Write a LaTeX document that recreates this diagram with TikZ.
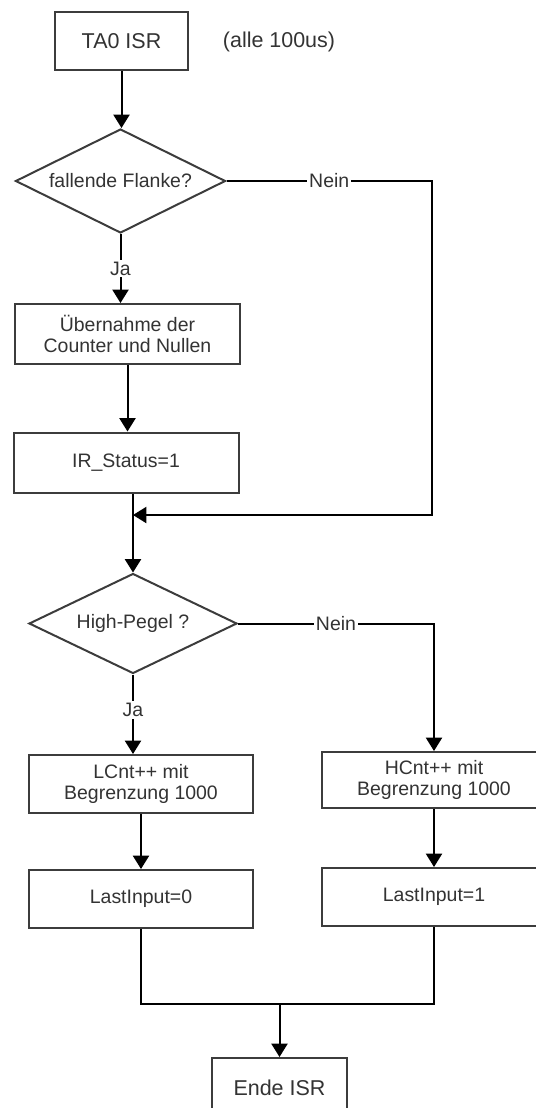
\documentclass[tikz,border=0pt]{standalone}
\usepackage{fontspec}
\setmainfont{Liberation Sans}
\usetikzlibrary{shapes.geometric,arrows.meta}

\definecolor{ink}{HTML}{333333}
\definecolor{frame}{HTML}{3C3C3C}
\newcommand\pxu{0.75pt}

\tikzset{
  wh/.style 2 args={minimum width=#1*\pxu, minimum height=#2*\pxu},
  txt/.style={text=ink, font=\fontsize{14.6}{16.1}\selectfont},
  bigtxt/.style={text=ink, font=\fontsize{16.1}{18}\selectfont},
  proc/.style={draw=frame, line width=1.5pt, fill=white, inner sep=0pt, align=center, txt},
  decision/.style={diamond, shape aspect=2, draw=frame, line width=1.5pt, fill=white, inner sep=0pt, txt},
  conn/.style={draw=black, line width=1.5pt},
  flow/.style={conn, -{Triangle[width=12pt, length=10pt]}},
  lbl/.style={fill=white, inner sep=1.5pt, txt},
}

\begin{document}
\begin{tikzpicture}[x=0.75pt, y=-0.75pt]
\useasboundingbox (0,0) rectangle (536,1108);
\clip (0,0) rectangle (536,1108);

% steps
\node[proc, wh={133}{58}, bigtxt] (start) at (121.5,41) {TA0 ISR};
\node[bigtxt] (period) at (279,42) {(alle 100us)};
\node[decision, wh={210}{104}] (d1) at (120.5,181) {fallende Flanke?};
\node[proc, wh={225}{60}] (take) at (127.5,334) {Übernahme der\\Counter und Nullen};
\node[proc, wh={225}{60}] (status) at (126,462.5) {IR\_Status=1};
\coordinate (join) at (133,515);
\coordinate (bend) at (432,515);
\node[decision, wh={208}{100}] (d2) at (133,623.5) {High-Pegel ?};
\node[proc, wh={224}{58}] (lcnt) at (141,784) {LCnt++ mit\\Begrenzung 1000};
\node[proc, wh={224}{56}] (hcnt) at (434,780) {HCnt++ mit\\Begrenzung 1000};
\node[proc, wh={224}{58}] (last0) at (141,899) {LastInput=0};
\node[proc, wh={224}{58}] (last1) at (434,897) {LastInput=1};
\coordinate (merge) at (279.5,1004);
\node[proc, wh={135}{60}, bigtxt] (ende) at (279.5,1088) {Ende ISR};

% connectors
\draw[flow] (start.south) -- (start.south |- d1.north);
\draw[flow] (d1.south) -- node[lbl]{Ja} (d1.south |- take.north);
\draw[flow] (take.south) -- (take.south |- status.north);
\draw[flow] (d1.east) -- node[lbl]{Nein} (d1.east -| bend) -- (bend) -- (join);
\draw[flow] (status.south -| d2.north) -- (d2.north);
\draw[flow] (d2.south) -- node[lbl, pos=0.45]{Ja} (d2.south |- lcnt.north);
\draw[flow] (d2.east) -- node[lbl]{Nein} (d2.east -| hcnt.north) -- (hcnt.north);
\draw[flow] (lcnt) -- (last0);
\draw[flow] (hcnt) -- (last1);
\draw[conn] (last0.south) |- (merge) -| (last1.south);
\draw[flow] (merge) -- (ende.north);
\end{tikzpicture}
\end{document}
